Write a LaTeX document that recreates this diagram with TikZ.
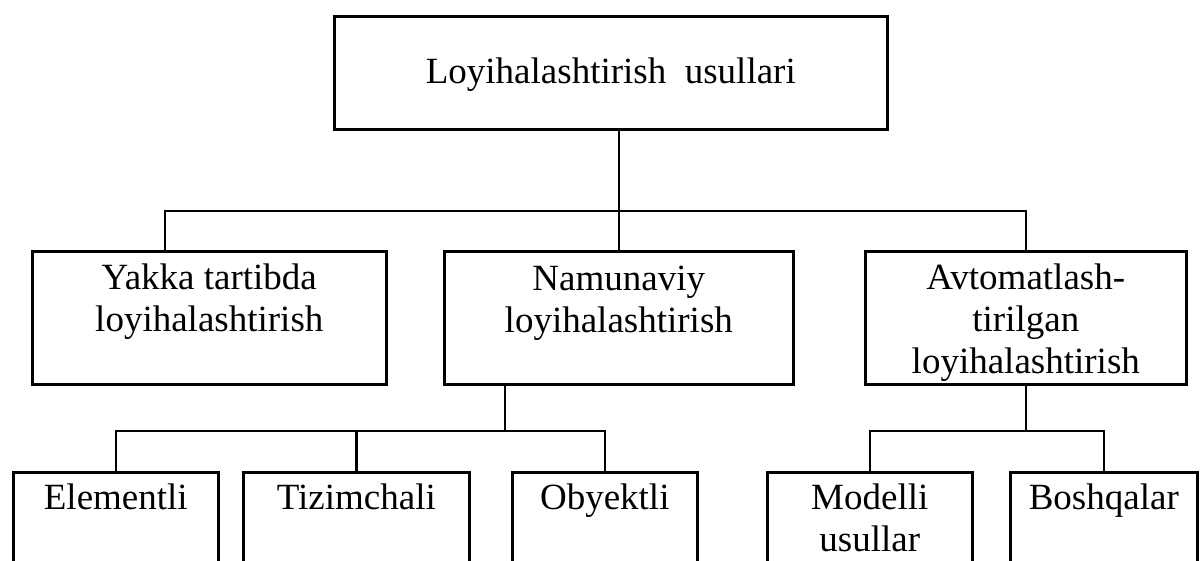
\documentclass[tikz,border=0pt]{standalone}
\usepackage{fontspec}
\setmainfont{Liberation Serif}
\begin{document}
\begin{tikzpicture}[x=1pt,y=-1pt,
  box/.style={draw, line width=2.6pt, inner sep=0pt, align=center, anchor=north west,
    font=\fontsize{37}{42}\selectfont},
  link/.style={line width=2.6pt}]
\clip (0,0) rectangle (1202,560);
% top
\node[box, minimum width=553pt, text height=67pt, text depth=46pt] (top) at (333,15) {Loyihalashtirish\ \ usullari};
% middle level (text height = distance from top edge to last baseline)
\node[box, minimum width=354pt, text height=80pt, text depth=53pt] (b1) at (31,250) {Yakka tartibda\\loyihalashtirish};
\node[box, minimum width=349pt, text height=81pt, text depth=52pt] (b2) at (443,250) {Namunaviy\\loyihalashtirish};
\node[box, minimum width=321pt, text height=122pt, text depth=11pt] (b3) at (864,250) {Avtomatlash-\\tirilgan\\loyihalashtirish};
% bottom level
\node[box, minimum width=205pt, text height=37pt, text depth=110pt] (e1) at (12,471) {Elementli};
\node[box, minimum width=226pt, text height=37pt, text depth=110pt] (e2) at (242,471) {Tizimchali};
\node[box, minimum width=185pt, text height=37pt, text depth=110pt] (e3) at (511,471) {Obyektli};
\node[box, minimum width=205pt, text height=79pt, text depth=70pt] (m1) at (766,471) {Modelli\\usullar};
\node[box, minimum width=187pt, text height=37pt, text depth=110pt] (m2) at (1009,471) {Boshqalar};
% connectors top
\coordinate (hub) at (619,211);
\coordinate (d1) at (165,211);
\draw[link] (top.south -| hub) -- (hub);
\draw[link] (d1 |- b1.north) -- (d1) -- (b3.north |- hub) -- (b3.north);
\draw[link] (hub) -- (hub |- b2.north);
% connectors from Namunaviy
\coordinate (j2) at (505,431);
\draw[link] (j2 |- b2.south) -- (j2);
\draw[link] (e1.north) -- (e1.north |- j2) -- (e3.north |- j2) -- (e3.north);
\draw[link] (e2.north |- j2) -- (e2.north);
% connectors from Avtomatlashtirilgan
\coordinate (j3) at (1023,431);
\draw[link] (b3.south) -- (b3.south |- j3);
\draw[link] (m1.north) -- (m1.north |- j3) -- (m2.north |- j3) -- (m2.north);
\end{tikzpicture}
\end{document}
